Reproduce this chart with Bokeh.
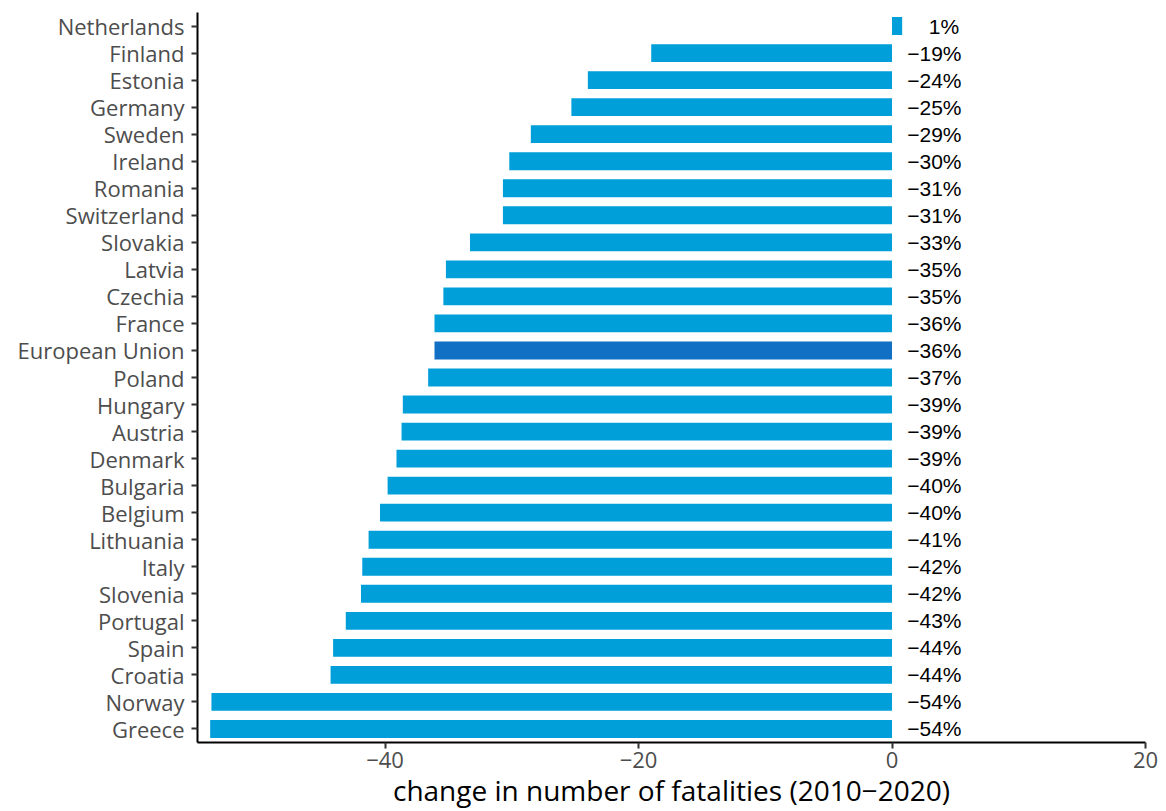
from bokeh.plotting import figure
from bokeh.models import FactorRange, Range1d, ColumnDataSource, FixedTicker, CustomJSTickFormatter
from bokeh.core.properties import value
from bokeh.embed import file_html
from bokeh.resources import INLINE
import numpy as np

countries = ["Netherlands", "Finland", "Estonia", "Germany", "Sweden", "Ireland", "Romania",
             "Switzerland", "Slovakia", "Latvia", "Czechia", "France", "European Union", "Poland",
             "Hungary", "Austria", "Denmark", "Bulgaria", "Belgium", "Lithuania", "Italy",
             "Slovenia", "Portugal", "Spain", "Croatia", "Norway", "Greece"]
changes = [0.8, -19.0, -24.0, -25.3, -28.5, -30.2, -30.7, -30.7, -33.3, -35.2, -35.4, -36.1,
           -36.1, -36.6, -38.6, -38.7, -39.1, -39.8, -40.4, -41.3, -41.8, -41.9, -43.1, -44.1,
           -44.3, -53.7, -53.8]
labels = ["1%", "\u221219%", "\u221224%", "\u221225%", "\u221229%", "\u221230%", "\u221231%",
          "\u221231%", "\u221233%", "\u221235%", "\u221235%", "\u221236%", "\u221236%", "\u221237%",
          "\u221239%", "\u221239%", "\u221239%", "\u221240%", "\u221240%", "\u221241%", "\u221242%",
          "\u221242%", "\u221243%", "\u221244%", "\u221244%", "\u221254%", "\u221254%"]
x_ticks = [-40, -20, 0, 20]

vals = np.array(changes)
colors = ["#1170C4" if c == "European Union" else "#009FDA" for c in countries]
label_x = np.where(vals > 0, vals + 2.1, 1.2)

src = ColumnDataSource(dict(country=countries, val=vals, color=colors, lab=labels, lx=label_x))

p = figure(width=1158, height=811, output_backend="svg", toolbar_location=None,
           y_range=FactorRange(factors=list(reversed(countries)), range_padding=0),
           x_range=Range1d(-54.8, 20))
p.min_border_left = 197
p.min_border_top = 12
p.min_border_bottom = 40
p.min_border_right = 13
p.outline_line_color = None
p.xgrid.visible = False
p.ygrid.visible = False

p.hbar(y="country", left=0, right="val", height=0.66, fill_color="color", line_color=None, source=src)
p.text(x="lx", y="country", text="lab", source=src, text_align="left", text_baseline="middle",
       text_font=value("Liberation Sans"), text_font_size="21px", text_color="black")

for ax in (p.xaxis[0], p.yaxis[0]):
    ax.axis_line_color = "black"
    ax.axis_line_width = 2
    ax.major_tick_line_color = "#333333"
    ax.major_tick_line_width = 2
    ax.major_tick_out = 6
    ax.major_tick_in = 0
    ax.minor_tick_line_color = None
    ax.major_label_text_font = "Open Sans"
    ax.major_label_text_font_size = "22px"
    ax.major_label_text_color = "#4D4D4D"
    ax.major_label_standoff = 7

p.xaxis.major_label_standoff = 3
p.xaxis.ticker = FixedTicker(ticks=x_ticks)
p.xaxis.formatter = CustomJSTickFormatter(code="return tick < 0 ? '\u2212' + Math.abs(tick) : tick.toString();")
p.xaxis.axis_label = "change in number of fatalities (2010\u22122020)"
p.xaxis.axis_label_text_font = "Open Sans"
p.xaxis.axis_label_text_font_size = "28px"
p.xaxis.axis_label_text_font_style = "normal"
p.xaxis.axis_label_text_color = "black"
p.xaxis.axis_label_standoff = 0

open("out.html", "w").write(file_html(p, INLINE))
